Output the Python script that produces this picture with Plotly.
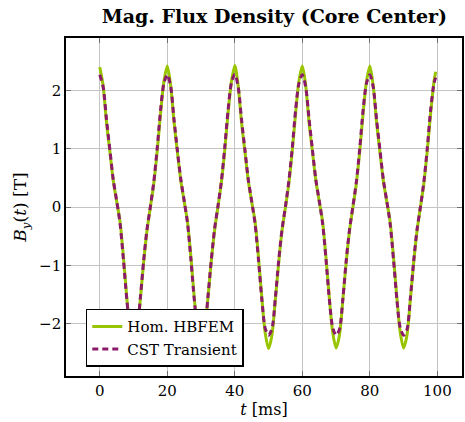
import plotly.graph_objects as go

# Sample instants in ms (1 ms step, last sample at 99.5 ms)
t_ms = list(range(100)) + [99.5]

# Homogenized HBFEM result, B_y at the core center [T]
b_hbfem = [
    2.40, 2.08, 1.45, 0.95, 0.45, 0.10, -0.25, -0.85, -1.55, -2.15,
    -2.42, -2.20, -1.60, -0.95, -0.40, 0.00, 0.40, 0.95, 1.60, 2.15,
    2.42, 2.09, 1.46, 0.94, 0.46, 0.10, -0.26, -0.86, -1.56, -2.15,
    -2.42, -2.19, -1.59, -0.95, -0.41, 0.00, 0.41, 0.96, 1.61, 2.15,
    2.43, 2.08, 1.45, 0.95, 0.45, 0.09, -0.25, -0.85, -1.55, -2.16,
    -2.43, -2.20, -1.60, -0.96, -0.40, -0.01, 0.40, 0.95, 1.60, 2.16,
    2.42, 2.09, 1.45, 0.95, 0.46, 0.10, -0.25, -0.86, -1.56, -2.15,
    -2.42, -2.20, -1.60, -0.95, -0.40, 0.00, 0.40, 0.95, 1.60, 2.15,
    2.42, 2.08, 1.45, 0.94, 0.45, 0.10, -0.25, -0.85, -1.55, -2.15,
    -2.42, -2.20, -1.59, -0.95, -0.40, 0.00, 0.40, 0.96, 1.60, 2.15,
    2.32,
]

# CST transient reference, B_y at the core center [T]
b_cst = [
    2.27, 2.06, 1.50, 0.98, 0.47, 0.11, -0.28, -0.90, -1.58, -2.07,
    -2.20, -2.10, -1.57, -0.92, -0.38, 0.01, 0.43, 1.00, 1.66, 2.12,
    2.27, 2.07, 1.50, 0.97, 0.48, 0.11, -0.28, -0.90, -1.59, -2.07,
    -2.21, -2.10, -1.57, -0.93, -0.38, 0.01, 0.43, 1.01, 1.66, 2.13,
    2.28, 2.06, 1.50, 0.98, 0.47, 0.10, -0.29, -0.90, -1.58, -2.08,
    -2.20, -2.09, -1.57, -0.92, -0.38, 0.01, 0.44, 1.00, 1.66, 2.12,
    2.27, 2.06, 1.51, 0.98, 0.47, 0.11, -0.28, -0.89, -1.58, -2.07,
    -2.20, -2.10, -1.58, -0.92, -0.38, 0.02, 0.43, 1.00, 1.66, 2.12,
    2.27, 2.06, 1.50, 0.98, 0.47, 0.11, -0.28, -0.90, -1.58, -2.07,
    -2.20, -2.10, -1.57, -0.92, -0.38, 0.01, 0.43, 1.00, 1.66, 2.12,
    2.22,
]

x_ticks = [0, 20, 40, 60, 80, 100]
y_ticks = [-2, -1, 0, 1, 2]

GREEN = "#99c400"
PURPLE = "#8c1a6a"
SERIF = "DejaVu Serif"

fig = go.Figure()
fig.add_trace(go.Scatter(
    x=t_ms, y=b_hbfem, mode="lines", name="Hom. HBFEM",
    line=dict(color=GREEN, width=3, shape="spline", smoothing=0.8),
))
fig.add_trace(go.Scatter(
    x=t_ms, y=b_cst, mode="lines", name="CST Transient",
    line=dict(color=PURPLE, width=3, dash="6px,4px", shape="spline", smoothing=0.8),
))

axis_common = dict(
    showgrid=True, gridcolor="#c4c4c4", gridwidth=1.3,
    zeroline=False,
    showline=True, linecolor="black", linewidth=1.6, mirror="ticks",
    ticks="inside", ticklen=5, tickwidth=1.3, tickcolor="#707070",
    tickfont=dict(family=SERIF, size=15, color="black"),
)

fig.update_layout(
    width=465, height=422,
    margin=dict(l=66, r=1, t=38, b=46),
    paper_bgcolor="white", plot_bgcolor="white",
    title=dict(
        text="<b>Mag. Flux Density (Core Center)</b>",
        x=0.59, xanchor="center", y=0.962, yanchor="middle",
        font=dict(family=SERIF, size=19, color="black"),
    ),
    xaxis=dict(
        range=[-10, 107.3], tickvals=x_ticks,
        title=dict(text="<i>t</i> [ms]", standoff=0,
                   font=dict(family=SERIF, size=16, color="black")),
        **axis_common,
    ),
    yaxis=dict(
        range=[-2.9, 2.9], tickvals=y_ticks,
        title=dict(text="<i>B</i><sub><i>y</i></sub>(<i>t</i>) [T]", standoff=8,
                   font=dict(family=SERIF, size=17, color="black")),
        **axis_common,
    ),
    legend=dict(
        x=0.05, y=0.027, xanchor="left", yanchor="bottom",
        bgcolor="white", bordercolor="black", borderwidth=1.5,
        font=dict(family=SERIF, size=15, color="black"),
        tracegroupgap=0, itemwidth=30,
    ),
    showlegend=True,
)

fig.write_html("out.html")
